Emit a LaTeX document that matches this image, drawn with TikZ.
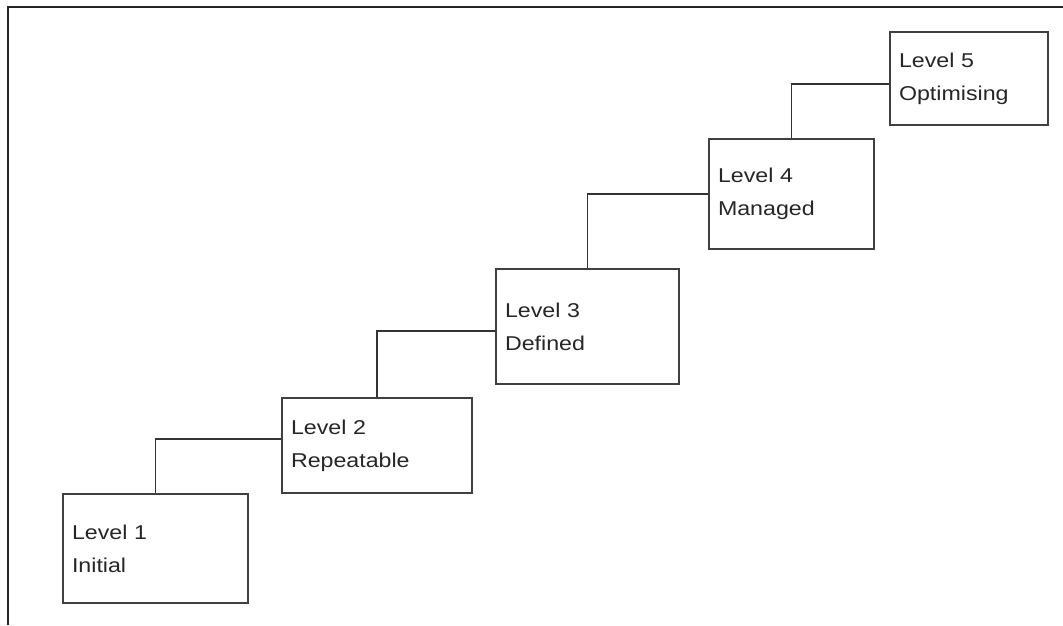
\documentclass[tikz,border=0pt]{standalone}
\usepackage{fontspec}
\setmainfont{Liberation Sans}[FakeStretch=1.16]
\usetikzlibrary{positioning}

\begin{document}
\begin{tikzpicture}[x=1pt, y=-1pt, font=\fontsize{20}{33}\selectfont,
  level/.style={draw=black!75, line width=1.3pt, align=left, inner xsep=9pt, inner ysep=0pt, text=black!85},
  link/.style={draw=black!80, line width=1.3pt}]
\useasboundingbox (0,0) rectangle (1063,625);
% frame
\draw[black!85, line width=2pt] (8,625) -- (8,7) -- (1063,7);
% the five levels
\node[level, text width=167pt, minimum height=109pt] (l1) at (155.5,548.5) {Level 1\\Initial};
\node[level, text width=172pt, minimum height=95pt] (l2) at (377,445.5) {Level 2\\Repeatable};
\node[level, text width=165pt, minimum height=115pt] (l3) at (587.5,326.5) {Level 3\\Defined};
\node[level, text width=147pt, minimum height=110pt] (l4) at (791.5,194) {Level 4\\Managed};
\node[level, text width=140pt, minimum height=93pt] (l5) at (969,78.5) {Level 5\\Optimising};
\draw[link] (l1.north) |- ([yshift=6.5pt]l2.west);
\draw[link] (l2.north) |- ([yshift=-4.5pt]l3.west);
\draw[link] (l3.north) |- (l4.west);
\draw[link] (l4.north) |- ([yshift=-5.5pt]l5.west);
\end{tikzpicture}
\end{document}
